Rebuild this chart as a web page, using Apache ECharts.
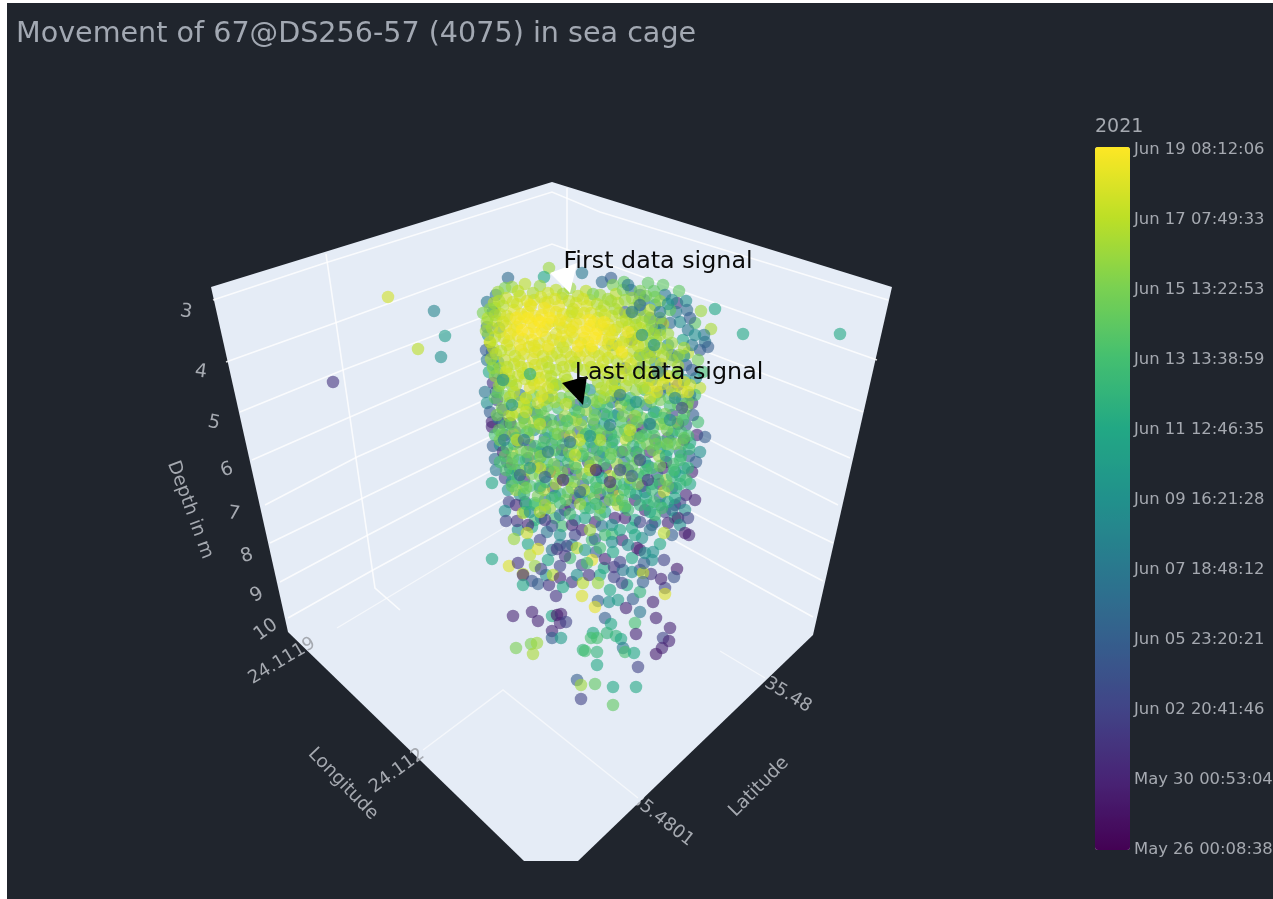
<!DOCTYPE html>
<html><head><meta charset="utf-8">
<style>html,body{margin:0;padding:0;background:#fff}#c{width:1273px;height:899px;filter:blur(.45px)}</style>
<script src="https://cdn.jsdelivr.net/npm/echarts@6/dist/echarts.min.js"></script>
</head><body><div id="c"></div>
<script>
const chartTitle = 'Movement of 67@DS256-57 (4075) in sea cage';
const colourYear = '2021';
const timeTicks = ['May 26 00:08:38','May 30 00:53:04','Jun 02 20:41:46','Jun 05 23:20:21','Jun 07 18:48:12','Jun 09 16:21:28','Jun 11 12:46:35','Jun 13 13:38:59','Jun 15 13:22:53','Jun 17 07:49:33','Jun 19 08:12:06'];
const viridis = ['#440154','#482475','#414487','#355f8d','#2a788e','#21918c','#22a884','#44bf70','#7ad151','#bddf26','#fde725'];

// Scene geometry as it projects onto the picture plane
const sceneOutline = [[211,287],[552,182],[892,287],[813,635],[578,861],[524,861],[288,632]];
const wallGrid = [
 [[213,300],[325,263],[552,192],[600,212],[888,300]],
 [[226,362],[335,323],[552,244],[687,293],[877,360]],
 [[240,412],[343,370],[552,291],[707,352],[863,412]],
 [[252,460],[350,417],[552,330],[700,393],[850,458]],
 [[265,505],[357,457],[552,370],[710,440],[838,505]],
 [[270,543],[363,498],[552,407],[833,543]],
 [[280,582],[368,535],[552,439],[823,581]],
 [[288,618],[373,570],[552,473],[813,617]],
 [[326,254],[375,588],[400,610]],
 [[567,188],[567,272]]
];
const floorGrid = [
 [[337,628],[507,526]],
 [[423,750],[503,690],[638,798]],
 [[720,651],[765,678]]
];

// [across, down, colour position on the time bar], repeated
const strayPoints = [388,297,9.3, 434,311,4.5, 445,336,5.5, 418,349,9, 441,357,5, 333,382,1.5, 743,334,6, 840,334,6];
const rimPoints = [
508,278,3.5, 549,268,8.5, 544,277,6, 582,273,4, 602,282,3.5, 611,278,3, 613,285,8, 624,282,7.5, 631,290,4, 648,283,7.5, 663,285,7.5, 679,291,7.5, 654,291,7.5, 677,303,1.5, 686,301,5, 687,310,3.5, 715,309,6, 701,311,8.5, 711,329,8.7, 695,323,7.5, 680,322,5, 670,323,3.5, 661,322,1.5, 663,324,9, 705,342,4, 708,347,3, 688,353,9, 700,388,9, 677,357,4, 683,340,6,
487,302,4, 483,313,8, 495,308,8, 487,327,3.5, 490,343,9, 487,360,4, 493,365,7, 497,373,5, 493,383,1.5, 485,392,4, 497,400,2, 487,403,5, 492,422,1, 492,427,1, 502,423,1, 510,423,.5, 493,446,3, 495,459,3.5, 512,453,9, 550,472,1, 663,468,1, 655,440,2, 697,435,1, 705,437,3, 690,443,6, 698,422,7, 692,403,1.5, 687,407,8,
496,295,4, 505,288,8, 488,335,5, 486,350,3, 489,372,6, 490,412,3, 495,435,7, 500,445,5, 496,470,4, 505,478,2, 508,490,5, 700,350,3, 704,335,4, 698,360,8, 703,372,7, 696,378,5, 695,395,7, 693,415,3, 700,452,5, 696,462,3, 692,472,1, 690,484,6, 686,495,1, 680,503,2
];
const blueBase = [
520,395,4, 535,412,3, 548,398,5, 560,420,4, 577,405,3, 590,390,5, 604,414,4, 618,398,3, 632,420,2, 646,405,4, 660,392,3, 672,415,2, 682,400,5,
515,432,3, 530,445,2, 545,438,4, 562,450,1, 578,432,3, 593,448,4, 607,436,2, 622,452,1, 637,434,3, 650,452,1, 668,438,2, 680,452,4, 686,425,3,
510,468,4, 524,480,1, 538,466,3, 553,488,2, 568,470,1, 583,484,3, 598,472,5, 613,490,1, 628,470,2, 642,486,1, 657,474,3, 672,488,2, 684,468,5, 520,495,5, 545,500,4, 575,498,1, 605,502,3, 635,500,1, 660,497,3, 675,505,2,
640,310,4, 655,330,3, 668,345,5, 650,352,4, 662,368,3, 678,372,5, 668,388,4, 640,368,4, 652,380,5, 632,340,3, 644,300,4, 625,312,3, 612,345,5, 672,300,5, 688,330,4, 686,365,3, 678,385,2
];
const blueExtra = [
493,312,4, 499,328,5, 492,352,3, 498,362,5, 503,378,4, 496,392,3, 503,410,2, 498,418,4, 505,435,3, 503,452,1, 507,462,2, 515,470,5, 518,442,1, 524,418,5, 528,458,2, 534,430,5, 540,452,3, 546,422,2, 552,444,5, 558,466,4, 564,436,2, 570,456,5, 576,474,3, 582,420,5, 588,462,2, 594,424,4, 600,456,3, 606,468,1, 612,442,5, 618,414,4, 624,462,4, 630,436,5, 636,452,2, 642,428,1, 648,466,4, 654,412,5, 660,448,5, 666,462,1, 672,434,5, 678,424,1, 684,440,1, 689,456,3, 675,472,5, 660,484,1, 645,492,4, 630,484,5, 615,500,5, 600,494,2, 585,500,5, 570,505,3, 555,496,5, 540,488,4, 525,502,3, 512,482,5,
640,295,3, 655,305,5, 665,295,4, 676,312,4, 690,318,3, 695,335,5, 692,345,4, 684,356,5, 692,370,3, 685,380,5, 690,395,4, 660,330,5, 650,318,3, 672,355,4, 655,362,5, 640,355,5, 625,368,3, 615,380,5, 630,405,5, 612,402,4, 595,410,5
];
const lowerExtra = [
516,505,1, 525,512,6, 535,520,7, 545,510,5, 555,518,7, 565,510,1, 575,520,5, 585,508,7, 595,522,1, 605,512,6, 615,518,1, 625,508,5, 635,520,6, 645,510,1, 655,522,5, 665,512,2, 675,518,6, 685,510,5, 695,500,1,
518,530,5, 532,527,6, 547,532,4, 562,526,7, 572,545,5, 582,530,1, 592,540,7, 602,526,4, 612,534,7, 622,540,1, 632,528,6, 642,538,5, 652,525,2, 660,544,6, 672,535,3, 678,518,.8,
548,560,6, 560,545,4, 570,558,7, 582,565,2, 596,552,3, 604,568,6, 632,558,6, 640,570,2, 652,560,5, 632,572,5, 600,575,6, 560,566,2, 546,575,5, 535,566,8.5, 528,544,6, 664,560,2
];
const sparseLower = [
492,483,6, 523,486,7, 509,502,2, 505,511,5, 506,521,2, 517,521,1.5, 523,513,9, 528,525,1, 527,533,9.3, 514,539,8.5, 540,540,2, 552,526,2.5, 535,505,7, 541,518,5, 492,559,6, 509,566,9.5, 518,563,1.5, 523,574,9, 523,575,1, 530,555,9, 538,549,9.5, 541,569,2, 552,550,4, 557,549,1.5, 532,581,2.5, 523,585,6, 538,584,3, 549,585,1.5, 553,575,9, 560,578,1, 556,596,1.5, 572,582,1.5, 577,575,5, 563,587,6, 582,596,9.5, 583,583,9, 589,575,1.5, 598,583,8.5, 598,601,3, 609,602,5, 618,600,5.5, 595,607,9.7, 610,590,6, 626,608,1, 633,599,3, 640,592,6.5, 653,602,1, 640,612,4, 635,623,7, 656,618,1, 665,588,2, 665,594,9.5, 677,569,.8, 674,577,2.5, 661,579,1, 651,574,1.5, 643,573,9, 643,582,3, 627,585,6, 622,583,2, 614,577,2, 614,567,1.5, 623,570,4, 620,562,2, 644,563,3, 605,559,1, 592,560,9.7, 587,563,7, 565,556,1.5, 567,546,2, 577,548,9, 585,550,5.5, 595,539,3, 613,552,6, 637,548,.8, 640,550,1, 645,553,5, 653,552,5, 513,616,1, 532,612,1, 538,621,1, 552,616,6, 557,615,.5, 561,614,1, 560,623,1, 566,622,2, 552,631,1, 552,638,3, 561,638,5.5, 516,648,8, 531,644,8, 537,643,8.5, 533,654,8.7, 605,618,3, 611,624,6, 607,633,6.5, 593,633,6, 591,638,7, 597,638,7, 616,636,6.5, 621,639,6, 636,634,1, 623,648,4, 625,652,7, 634,653,6, 583,650,6.5, 585,651,7, 597,652,6.5, 597,665,6, 638,667,2, 670,628,1, 663,638,2, 669,641,1, 662,648,1, 656,654,.8, 577,680,3, 581,685,8.5, 595,684,7.5, 613,687,6, 636,687,6, 581,699,2, 613,705,7.5,
530,512,5, 545,520,1.5, 560,515,4, 572,525,1, 585,518,6, 600,515,7, 612,525,5, 625,518,1, 640,522,2, 655,515,7, 668,523,1, 680,525,5, 560,535,5, 575,535,2, 590,530,8.5, 605,535,7, 620,530,6, 635,535,6, 650,530,4, 664,533,9, 689,535,1, 685,533,.8, 612,542,5, 628,545,5, 600,548,7, 672,510,4, 660,505,5, 688,518,2
];
const greenMiddle = [
498,392,7.5, 512,386,8, 526,398,7.5, 540,392,8.5, 556,385,7, 570,396,8, 584,388,7, 600,396,7.5, 615,386,8, 630,398,6.5, 645,390,7, 660,400,8, 675,394,7.5,
502,408,8, 516,412,9, 530,405,7, 544,416,8, 558,408,7, 572,418,6.5, 586,410,8.5, 600,404,7, 614,416,6, 628,408,7.5, 642,418,8, 656,412,6.5, 670,406,7, 684,414,7.5,
506,425,7, 520,428,8, 534,422,9, 548,432,6.5, 562,426,7.5, 576,420,9, 590,430,7, 604,424,6, 618,432,7.5, 632,426,8, 646,434,7, 660,424,8.5, 674,430,7, 688,436,7,
500,440,8, 514,444,7, 528,438,8.5, 542,448,6, 556,440,7.5, 570,436,9, 584,446,7, 598,438,8, 612,448,6.5, 626,440,9, 640,446,7, 654,436,7.5, 668,450,6.5, 682,444,7.5,
505,456,7.5, 519,460,6, 533,454,8, 547,462,7, 561,456,6, 575,464,9, 589,458,7.5, 603,452,6, 617,464,8.5, 631,456,7, 645,462,6, 659,456,8.5, 673,464,7,
512,474,6.5, 526,470,9.3, 540,476,8, 554,472,9, 568,480,7, 582,474,8.5, 596,482,7, 610,476,9, 624,484,6.5, 638,474,7.5, 652,484,6, 666,480,8.5, 680,476,6,
516,490,8.5, 530,486,7, 544,490,9, 560,494,6.5, 572,488,9.2, 590,492,7, 600,488,8, 618,496,9, 630,492,7, 646,498,6, 664,492,9, 676,488,6, 535,503,7, 550,508,8.5, 590,508,6.5, 618,505,8.8, 628,510,7, 650,512,6
];
const greenExtra = [
505,396,8, 519,402,8.5, 533,396,8, 547,406,7.5, 561,398,8, 575,410,7, 593,400,8, 607,407,7, 621,405,8.5, 637,412,7, 651,402,7.5, 665,414,8, 678,405,7.5,
509,416,8.5, 523,418,8, 537,414,7.5, 551,420,7, 565,416,8.5, 579,412,7.5, 593,420,8, 607,416,7, 621,422,7, 635,416,8.5, 649,424,6.5, 663,418,7, 677,422,8,
499,430,7.5, 513,434,8.5, 527,432,7, 541,428,8, 555,434,7, 569,428,8, 583,436,8.5, 597,430,7.5, 611,434,6.5, 625,430,7.5, 639,438,8, 653,428,7, 667,430,8, 681,432,7,
507,448,7, 521,450,8, 535,446,7, 549,452,8, 563,444,7, 577,450,8.5, 591,442,6.5, 605,446,7.5, 619,452,7, 633,446,6.5, 647,444,8, 661,442,7, 675,444,8, 689,449,6.5,
512,464,8, 526,460,7, 540,458,6.5, 554,464,8, 568,462,7, 582,456,6.5, 596,462,8, 610,458,7, 624,468,7.5, 638,460,8, 652,468,7, 666,456,6, 680,460,7,
518,478,7, 532,474,8, 546,482,6.5, 560,478,7.5, 574,482,8, 588,478,7, 602,478,6, 616,484,7, 630,478,8.5, 644,476,6.5, 658,480,7, 672,476,6.5, 686,480,7,
524,494,7, 538,496,8, 552,498,7, 566,500,8, 580,495,6.5, 594,498,8, 608,492,6.5, 622,500,7, 636,494,6, 654,502,7, 668,502,6, 540,512,9, 570,514,7, 600,508,8, 640,505,6.5
];
const greenFill = [
495,398,7.5, 510,403,8, 527,408,8.3, 541,410,7.8, 555,402,8.5, 569,402,8, 583,398,7.8, 597,402,8.2, 611,396,8, 625,400,7, 639,402,7.5, 655,396,8, 669,398,7.5, 688,402,8,
497,415,8, 511,424,7.5, 525,423,8.2, 539,420,7.5, 553,426,8, 567,421,7.2, 581,425,8.4, 595,415,7.7, 609,428,7.5, 623,416,8, 637,422,7.6, 651,418,7, 665,424,7.8, 683,420,7,
502,434,7.7, 516,438,7.2, 530,430,8, 544,442,7.4, 558,434,8.2, 572,444,7.5, 586,434,7, 600,434,7.8, 614,440,7, 628,436,8.4, 642,436,7.2, 656,444,7.8, 670,442,7.4, 684,438,7.6,
500,462,7, 513,458,7.5, 527,452,7.7, 541,456,8.3, 555,450,7.3, 569,452,8, 583,454,7.5, 597,450,7.2, 611,454,8, 625,450,7.5, 639,454,7.1, 653,450,7.7, 667,444,8, 681,456,6.8,
506,470,7.2, 520,470,7.6, 534,466,8.5, 548,470,7.4, 562,472,8, 576,468,7.2, 590,466,8.4, 604,464,7, 618,474,8, 632,466,7.5, 646,470,7, 660,466,7.8, 674,470,7, 688,468,6.5,
512,486,7.5, 526,488,8, 540,486,7, 556,484,8.7, 568,492,7.5, 584,490,8.8, 596,488,7, 610,486,8, 624,490,7, 638,484,8, 652,490,6.8, 668,486,7.5, 680,484,6.5,
526,504,6.5, 545,505,8.7, 560,503,7, 580,504,8.5, 596,504,6.5, 610,500,8, 625,506,7.5, 648,505,6.5, 662,508,7, 675,498,6
];
const yellowUpper = [
512,287,8.5, 525,284,9, 540,286,8.5, 556,290,9, 570,288,8.5, 586,291,9, 600,295,8.5, 616,294,9, 632,298,8.5, 646,296,8, 660,301,8.5,
494,303,9, 506,298,9.3, 520,296,9.2, 534,300,9.5, 548,302,9.6, 562,298,9.4, 576,303,9.5, 590,300,9.2, 604,306,9, 618,303,9, 634,308,8.5, 650,310,9,
488,318,9, 500,314,9.2, 514,310,9.6, 528,312,9.8, 542,315,9.9, 556,312,9.6, 570,316,9.4, 584,313,9.6, 598,318,9.3, 612,316,9.1, 626,320,8.8, 642,322,9, 656,340,8.5,
492,328,9.2, 506,326,9.6, 520,323,9.9, 534,327,9.9, 548,324,9.8, 562,328,9.5, 576,324,9.8, 590,326,9.9, 604,329,9.5, 618,327,9.3, 632,332,9, 648,330,8.7, 668,334,8.5,
490,342,9.3, 504,338,9.4, 518,336,9.8, 532,340,9.7, 546,337,9.6, 560,342,9.3, 574,338,9.5, 588,342,9.9, 602,340,9.8, 616,344,9.4, 630,342,9.2, 644,346,8.8, 660,348,8.6,
496,354,8.8, 510,350,9.2, 524,354,9.4, 538,350,9.6, 552,356,9.2, 566,352,9.3, 580,356,9.5, 594,352,9.2, 608,358,9, 622,354,9.6, 636,360,8.8, 650,358,9, 672,360,8.5,
500,368,8.6, 514,364,9.1, 528,368,9.3, 542,364,9.2, 556,370,8.9, 570,366,9.1, 584,370,9, 598,368,9.2, 612,372,9, 626,370,9.3, 640,374,8.7, 654,372,9.4, 668,376,9, 684,382,9.4,
504,380,8.4, 518,376,9.2, 532,380,9, 546,376,9.4, 560,384,8.8, 598,382,8.6, 612,384,9.3, 626,386,8.7, 640,382,9.1, 656,386,9.5,
514,392,9, 530,388,9.6, 544,400,9, 604,398,8.7, 650,398,9.3, 665,378,9.6
];
const yellowExtra = [
498,292,8.5, 518,291,9, 533,293,8.8, 548,293,9.2, 563,294,8.7, 578,296,9, 593,294,8, 608,299,8.6, 623,290,8, 640,291,8, 655,297,7.8, 670,310,7.5,
490,309,8.3, 503,306,9, 517,304,9.4, 531,306,9.6, 545,303,9.5, 559,306,9.7, 573,309,9.3, 587,306,9.4, 601,311,9, 615,309,8.7, 629,314,8.8, 645,316,8.5, 660,318,8,
496,321,9, 510,319,9.5, 524,317,9.8, 538,320,9.9, 552,321,9.8, 566,322,9.6, 580,319,9.7, 594,322,9.8, 608,324,9.4, 622,322,9.1, 636,325,8.8, 652,326,8.3,
486,331,8.6, 500,332,9.4, 514,330,9.8, 528,333,9.9, 542,331,9.9, 556,334,9.5, 570,330,9.7, 584,338,9.8, 598,330,9.9, 612,335,9.6, 626,337,9.1, 640,328,8.9, 654,334,8.4, 672,343,8.5, 684,348,8.7,
493,348,9, 507,345,9.4, 521,350,9.6, 535,352,9.5, 549,349,9.6, 563,347,9.2, 577,352,9.5, 591,349,9.5, 605,351,9.3, 619,347,9.7, 633,351,9, 647,353,8.6, 663,356,8.8,
491,359,8.7, 505,360,9.2, 519,361,9.3, 533,359,9.5, 547,362,9.1, 561,360,9.2, 575,362,9, 589,361,9.4, 603,362,9.3, 617,361,8.9, 631,364,9.4, 645,366,8.6, 661,364,9.1, 678,366,8.7,
495,376,8.4, 509,374,9, 523,373,9.2, 537,372,9.4, 551,376,8.9, 565,376,9, 593,375,9, 607,378,8.9, 621,377,9.2, 635,378,8.6, 649,380,9.2, 663,384,9.3, 676,382,9.7,
499,386,8.3, 516,385,9.1, 534,384,9.3, 552,383,9, 568,386,8.7, 606,390,8.8, 620,392,9, 636,390,8.4, 648,388,9.5, 672,391,9.4, 688,392,9.5,
510,397,8.8, 524,404,9, 538,403,9.3, 552,396,8.9, 566,404,9.1, 512,415,9, 526,412,9.2, 517,440,9.2, 540,424,9, 580,440,9.2, 630,430,9.2, 600,440,8.8, 575,455,9.2, 590,470,9, 540,468,9.2
];
const yellowFill = [
499,301,8.8, 513,302,9.2, 527,301,9.4, 541,297,9.3, 555,299,9.4, 569,301,9.1, 583,299,9.3, 597,304,8.9, 611,301,8.7, 625,300,8.5, 639,302,8.3,
495,315,8.7, 507,316,9.3, 521,314,9.7, 535,316,9.8, 549,311,9.8, 563,314,9.6, 577,313,9.4, 591,313,9.4, 605,315,9.2, 619,313,8.9, 635,318,8.6, 650,320,8.3,
487,322,8.5, 503,322,9.3, 517,327,9.7, 531,323,9.9, 545,327,9.8, 559,324,9.6, 573,327,9.7, 587,329,9.9, 601,325,9.7, 615,330,9.3, 629,326,9, 645,335,8.6, 660,335,8.7,
495,337,9, 509,341,9.4, 523,339,9.7, 539,343,9.5, 553,340,9.5, 567,341,9.4, 581,343,9.7, 595,338,9.9, 609,339,9.6, 623,342,9.3, 637,338,8.8, 651,343,8.4, 667,350,8.6,
501,351,9, 515,356,9.2, 529,347,9.5, 543,356,9.3, 557,353,9.2, 571,357,9.3, 585,351,9.5, 599,356,9.3, 613,353,9.4, 627,358,9.3, 641,356,8.7, 655,352,8.8, 679,355,8.5,
493,368,8.4, 507,367,8.9, 521,367,9.2, 535,365,9.3, 549,368,9, 563,367,9.1, 577,367,8.9, 591,367,9.1, 605,370,9.1, 619,369,9.1, 633,371,8.8, 647,372,8.9, 661,375,9.2, 677,374,8.6, 690,385,9.2,
501,384,8.4, 511,381,8.9, 525,379,9.1, 539,378,9.2, 553,388,9, 567,380,8.9, 601,388,8.9, 615,391,9, 629,380,8.9, 643,388,8.7, 657,392,9.4, 682,392,9.4
];
const brightCore = [
528,318,9.95, 540,322,10, 522,330,10, 536,334,9.95, 550,318,9.95, 516,318,9.9, 584,332,9.95, 596,334,10, 590,320,9.95, 604,322,9.9, 530,305,9.7, 544,308,9.8, 560,320,9.8, 572,332,9.7, 510,334,9.7, 578,346,9.9, 592,346,9.95, 608,344,9.6, 628,332,9.8, 640,336,9.3, 520,345,9.7, 534,346,9.6, 548,346,9.7, 562,336,9.7, 638,346,9.2, 622,352,9.85,
540,384,9.6, 526,398,9.4, 542,396,9.5, 548,388,9.3, 572,312,9.2, 506,372,9.3, 610,330,9.7
];
const darkSpecks = [
640,305,3.5, 632,312,4, 628,285,4, 642,335,5, 668,304,5, 660,312,4, 654,345,5, 658,372,4, 620,395,4, 636,402,5, 675,398,4.5, 610,425,4, 590,436,5, 570,442,3.5, 620,470,2, 640,460,2, 610,482,1, 632,476,3, 648,480,1.5, 650,424,4, 670,420,5, 682,408,2, 548,452,4, 530,468,5, 563,480,.8, 580,492,3, 545,477,3, 596,470,.5, 524,440,4, 504,440,4, 520,475,3, 585,402,5, 503,380,5, 512,405,5, 530,374,6
];
const bandGroups = [strayPoints, rimPoints, blueBase, blueExtra, lowerExtra, sparseLower, greenMiddle, greenExtra, greenFill, yellowUpper, yellowExtra, yellowFill, brightCore, darkSpecks];

const firstSignalCone = [[550,273],[577,263],[570,293]];
const lastSignalCone = [[562,383],[587,376],[583,405]];
const signalNotes = [['First data signal',658,262],['Last data signal',669,373]];
const depthTicks = [['3',186,312,-10],['4',201,372,-8],['5',214,423,-12],['6',227,470,20],['7',234,514,-8],['8',247,556,18],['9',257,595,28],['10',266,630,35]];
const groundTicks = [['24.1119',282,661,31],['24.112',397,771,36],['35.48',788,695,-31]];
const hiddenTick = [['35.4801',662,820,-38]];
const axisNames = [['Depth in m',190,510,-70],['Longitude',343,784,-46],['Latitude',759,787,45]];

const points = [];
bandGroups.forEach(b => { for (let i = 0; i < b.length; i += 3) points.push([b[i], b[i+1], b[i+2]]); });

const INK = '#a5a9b0';
function pathOf(api, list){ return list.map(p => api.coord(p)); }
function textSeries(rows, colour, size, z){
  return {type:'custom', coordinateSystem:'cartesian2d', xAxisIndex:0, yAxisIndex:0, z, silent:true, data:rows.map(r => [r[1], r[2]]),
    renderItem(p, api){
      const r = rows[p.dataIndex], c = api.coord([r[1], r[2]]);
      return {type:'text', x:c[0], y:c[1], rotation:(r[3]||0)*Math.PI/180,
        style:{text:r[0], fill:colour, font:size+'px "DejaVu Sans"', align:'center', verticalAlign:'middle'}};
    }};
}
const chart = echarts.init(document.getElementById('c'), null, {renderer:'canvas'});
chart.setOption({
  animation:false, backgroundColor:'#ffffff',
  title:{text:chartTitle, left:11, top:15, textStyle:{color:'#a2a8b2', fontSize:28.6, fontWeight:'normal', fontFamily:'DejaVu Sans'}},
  graphic:[{type:'rect', silent:true, z:-5, shape:{x:7, y:3, width:1266, height:896}, style:{fill:'#20252d'}},
    {type:'text', silent:true, z:6, x:1095, y:118, style:{text:colourYear, fill:'#a5a9b0', font:'19px "DejaVu Sans"'}}],
  grid:[{left:0, top:0, width:1273, height:899, outerBoundsMode:'none'}, {left:1095, top:150, width:35, height:700, outerBoundsMode:'none'}],
  xAxis:[{type:'value', min:0, max:1273, show:false}, {type:'value', gridIndex:1, show:false}],
  yAxis:[{type:'value', min:0, max:899, inverse:true, show:false},
    {type:'category', gridIndex:1, data:timeTicks, boundaryGap:false, position:'right', axisLine:{show:false}, axisTick:{show:false}, splitLine:{show:false},
     axisLabel:{color:'#a5a9b0', fontSize:16.4, fontFamily:'DejaVu Sans', margin:4, align:'left', interval:0, hideOverlap:false}}],
  visualMap:[{type:'continuous', seriesIndex:2, dimension:2, min:0, max:10, inRange:{color:viridis}, left:1080, top:132, itemWidth:35, itemHeight:703, calculable:false, showLabel:false, text:null, hoverLink:false, z:3}],
  series:[
    textSeries(hiddenTick, INK, 18, 1),
    {type:'custom', coordinateSystem:'cartesian2d', xAxisIndex:0, yAxisIndex:0, z:2, silent:true, data:[[0,0]],
      renderItem(p, api){
        const ch = [{type:'polygon', shape:{points:pathOf(api, sceneOutline)}, style:{fill:'#e5ecf6'}}];
        wallGrid.forEach(l => ch.push({type:'polyline', shape:{points:pathOf(api, l)}, style:{stroke:'#ffffff', opacity:.8, lineWidth:1.6, fill:null}}));
        floorGrid.forEach(l => ch.push({type:'polyline', shape:{points:pathOf(api, l)}, style:{stroke:'#ffffff', opacity:.6, lineWidth:1.4, fill:null}}));
        return {type:'group', children:ch};
      }},
    {type:'scatter', xAxisIndex:0, yAxisIndex:0, z:3, silent:true, large:false, progressive:0, symbol:'circle', symbolSize:12.5, itemStyle:{opacity:.6}, data:points},
    {type:'custom', coordinateSystem:'cartesian2d', xAxisIndex:0, yAxisIndex:0, z:4, silent:true, data:[[0,0]],
      renderItem(p, api){
        return {type:'group', children:[
          {type:'polygon', shape:{points:pathOf(api, firstSignalCone)}, style:{fill:'#ffffff'}},
          {type:'polygon', shape:{points:pathOf(api, lastSignalCone)}, style:{fill:'#000000'}}]};
      }},
    textSeries(signalNotes, '#0a0a0a', 23.8, 5),
    textSeries(depthTicks, INK, 19, 5),
    textSeries(groundTicks, INK, 18, 5),
    textSeries(axisNames, INK, 18.5, 5)
  ]
});
</script></body></html>
